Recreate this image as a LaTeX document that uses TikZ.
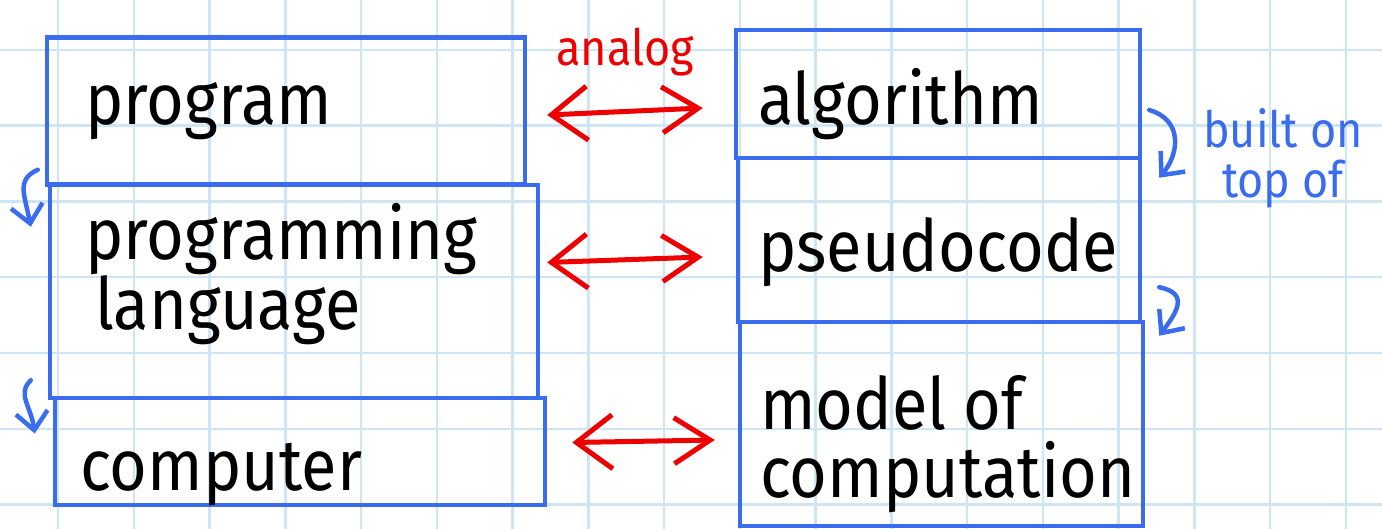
\documentclass[tikz,border=0pt]{standalone}
\usepackage{fontspec}
\setmainfont{Fira Sans}[FakeStretch=0.9]
\usetikzlibrary{arrows.meta,calc}

\definecolor{penblue}{RGB}{58,108,240}
\definecolor{penred}{RGB}{238,0,0}
\definecolor{gridblue}{RGB}{206,229,245}

\tikzset{
  gridline/.style={gridblue, line width=2.5pt},
  box/.style={draw=penblue, line width=4.5pt, rectangle, inner sep=0pt},
  word/.style={anchor=base west, inner sep=0pt, font=\fontsize{72}{68}\selectfont, align=left},
  analogy/.style={penred, line width=5pt, line cap=round, line join=round,
    {Straight Barb[length=36pt,width=54pt]}-{Straight Barb[length=36pt,width=46pt]}},
  builton/.style={penblue, line width=4.5pt, line cap=round,
    -{Straight Barb[length=18pt,width=32pt]}},
}

\begin{document}
\begin{tikzpicture}[x=1pt, y=-1pt]
  \useasboundingbox (0,0) rectangle (1382,529);
  \fill[white] (0,0) rectangle (1382,529);
  % squared paper
  \foreach \k in {-1,...,17}
     \draw[gridline] ({58+75.75*\k},0) -- ({58+75.75*\k},529);
  \foreach \k in {-1,...,6}
     \draw[gridline] (0,{50+75.75*\k}) -- (1382,{50+75.75*\k});

  % left column
  \node[box, minimum width=478pt, minimum height=147pt] (prog) at (286,111) {};
  \node[box, minimum width=488pt, minimum height=213pt] (lang) at (294,291.5) {};
  \node[box, minimum width=490pt, minimum height=107pt] (comp) at (300,451.5) {};
  % right column
  \node[box, minimum width=404pt, minimum height=128pt] (algo) at (938,94) {};
  \node[box, minimum width=402pt, minimum height=164pt] (pseudo) at (939,240) {};
  \node[box, minimum width=403pt, minimum height=204pt] (model) at (941.5,424) {};

  \node[word] (progtxt) at (85,125) {program};
  \node[word] (langtxt) at (85,330) {programming\\\hspace*{10pt}language};
  \node[word] (comptxt) at (80,490) {computer};
  \node[word] (algotxt) at (758,125) {algorithm};
  \node[word] (pseudotxt) at (758,272) {pseudocode};
  \node[word] (modeltxt) at (760,497) {model of\\computation};

  % analogies
  \draw[analogy] ($(prog.east)+(20,4)$) -- node[midway, anchor=base, yshift=46pt, inner sep=0pt,
      text=penred, font=\fontsize{50}{50}\selectfont] (analogtxt) {analog} ($(algo.west)+(-31,14)$);
  \draw[analogy] ($(lang.east)+(7,-29)$) -- ($(pseudo.west)+(-33,17)$);
  \draw[analogy] ($(comp.east)+(25,-9)$) -- ($(model.west)+(-23,16)$);

  % built on top of
  \draw[builton] ($(prog.south west)+(-7,-17)$) .. controls +(-22,10) and +(-6,-32) .. ($(lang.north west)+(-17,44)$);
  \draw[builton] ($(lang.south west)+(-17,-20)$) .. controls +(-14,14) and +(-4,-28) .. ($(comp.west)+(-18,-18)$);
  \draw[builton] ($(algo.east)+(7,16)$) .. controls +(34,10) and +(20,-24) .. ($(pseudo.north east)+(17,22)$);
  \draw[builton] ($(pseudo.south east)+(17,-37)$) .. controls +(30,6) and +(18,-24) .. ($(model.north east)+(14,16)$);
  \node[anchor=base, inner sep=0pt, text=penblue, align=center,
     font=\fontsize{50}{50}\selectfont] (builttxt) at (1283,198) {built on\\top of};
\end{tikzpicture}
\end{document}
